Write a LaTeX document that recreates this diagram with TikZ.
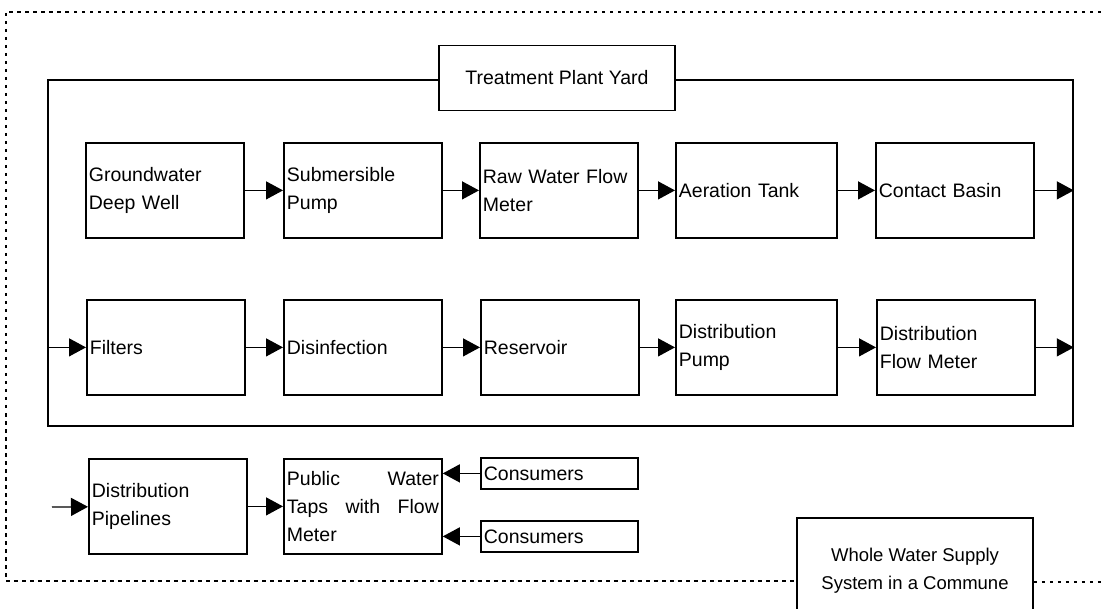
\documentclass[tikz,border=0pt]{standalone}
\usepackage{fontspec}
\setmainfont{Liberation Sans}
\usetikzlibrary{arrows.meta}
\begin{document}
\begin{tikzpicture}[x=1pt,y=-1pt,
  txt/.style={font=\fontsize{19.5}{28}\selectfont},
  stepbox/.style={draw,line width=1.8pt,inner xsep=3pt,inner ysep=0pt,align=left,txt,
     anchor=north west,text width=152,minimum height=95},
  consbox/.style={draw,line width=1.8pt,inner xsep=3pt,inner ysep=0pt,align=left,txt,
     anchor=north west,text width=151,minimum height=31},
  arr/.style={line width=1.3pt,-{Triangle[length=17pt,width=18pt]}},
  outer/.style={line width=1.7pt,dash pattern=on 3.5pt off 4.5pt},
]
\useasboundingbox (0,0) rectangle (1101,609);

% treatment plant yard frame
\node[draw,line width=1.8pt,minimum width=1025,minimum height=346,inner sep=0pt,anchor=north west] (yard) at (47,79) {};
\node[draw,line width=1.8pt,fill=white,minimum width=236,minimum height=65,txt] (yardlabel) at (557,78) {Treatment Plant Yard};

% row 1
\node[stepbox] (gw) at (85,142) {Groundwater\\Deep Well};
\node[stepbox] (sp) at (283,142) {Submersible\\Pump};
\node[stepbox] (rw) at (479,142) {Raw Water Flow\\Meter};
\node[stepbox,text width=155] (at) at (675,142) {Aeration Tank};
\node[stepbox] (cb) at (875,142) {Contact Basin};

% row 2
\node[stepbox] (fi) at (86,299) {Filters};
\node[stepbox] (di) at (283,299) {Disinfection};
\node[stepbox] (re) at (480,299) {Reservoir};
\node[stepbox,text width=155] (dp) at (675,299) {Distribution\\Pump};
\node[stepbox] (df) at (876,299) {Distribution\\Flow Meter};

% row 3
\node[stepbox] (pl) at (88,458) {Distribution\\Pipelines};
\node[stepbox] (pt) at (283,458) {Public\hfill Water\\Taps\hfill with\hfill Flow\\Meter};
\node[consbox] (c1) at (480,457) {Consumers};
\node[consbox] (c2) at (480,520) {Consumers};

% whole system label
\node[draw,line width=1.8pt,minimum width=236,minimum height=106,align=center,
  font=\fontsize{18.5}{28}\selectfont] (whole) at (915,571) {Whole Water Supply\\System in a Commune};

% outer dotted boundary
\draw[outer] (1101,12) -- (6,12) -- (6,581) -- (whole.west |- 0,581);
\draw[outer] (whole.east |- 0,582) -- (1101,582);

% connectors
\draw[arr] (gw) -- (sp);
\draw[arr] (sp) -- (rw);
\draw[arr] (rw) -- (at);
\draw[arr] (at) -- (cb);
\draw[arr] (cb) -- (yard.east |- cb);
\draw[arr] (yard.west |- fi) -- (fi);
\draw[arr] (fi) -- (di);
\draw[arr] (di) -- (re);
\draw[arr] (re) -- (dp);
\draw[arr] (dp) -- (df);
\draw[arr] (df) -- (yard.east |- df);
\coordinate (pin) at (52,507);
\draw[arr] (pin) -- (pl);
\draw[arr] (pl) -- (pt);
\draw[arr] (c1) -- (pt.east |- c1);
\draw[arr] (c2) -- (pt.east |- c2);
\end{tikzpicture}
\end{document}
